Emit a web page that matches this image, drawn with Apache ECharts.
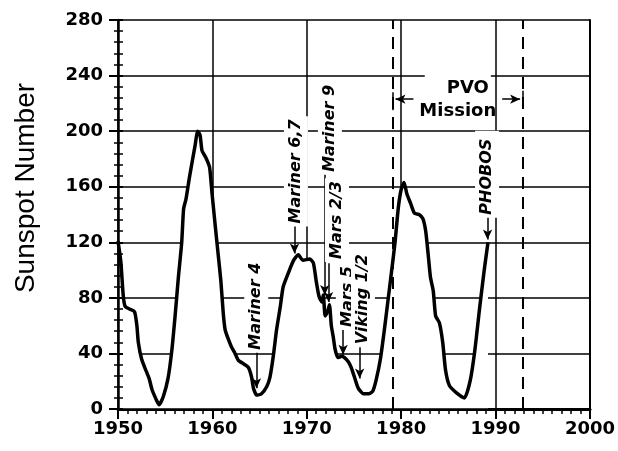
<!DOCTYPE html>
<html>
<head>
<meta charset="utf-8">
<script src="https://cdn.jsdelivr.net/npm/echarts@6/dist/echarts.min.js"></script>
<style>
html,body{margin:0;padding:0;background:#fff;}
#chart{width:618px;height:451px;}
</style>
</head>
<body>
<div id="chart"></div>
<script>
// smoothed sunspot number (year, value)
var years = [1950.0, 1950.3, 1950.55, 1950.75, 1951.2, 1951.75, 1952.0, 1952.15, 1952.5, 1953.0,
  1953.3, 1953.6, 1954.1, 1954.35, 1954.8, 1955.3, 1955.7, 1956.05, 1956.4, 1956.75,
  1956.95, 1957.2, 1957.6, 1958.15, 1958.45, 1958.7, 1958.9, 1959.3, 1959.7, 1959.95,
  1960.3, 1960.6, 1960.9, 1961.15, 1961.35, 1961.65, 1962.0, 1962.4, 1962.75, 1963.2,
  1963.8, 1964.15, 1964.35, 1964.7, 1965.2, 1965.75, 1966.1, 1966.45, 1966.8, 1967.2,
  1967.5, 1968.05, 1968.6, 1969.1, 1969.6, 1970.3, 1970.7, 1971.0, 1971.3, 1971.6,
  1971.75, 1971.95, 1972.2, 1972.4, 1972.6, 1972.8, 1973.0, 1973.3, 1973.7, 1974.0,
  1974.4, 1974.7, 1975.0, 1975.45, 1976.0, 1976.6, 1977.0, 1977.35, 1977.8, 1978.2,
  1978.6, 1979.0, 1979.35, 1979.7, 1980.0, 1980.3, 1980.6, 1981.0, 1981.4, 1981.9,
  1982.3, 1982.6, 1982.85, 1983.1, 1983.4, 1983.65, 1984.05, 1984.4, 1984.7, 1985.1,
  1985.8, 1986.7, 1987.3, 1987.8, 1988.3, 1988.8, 1989.2];
var ssn = [121, 106, 82, 74, 72, 70, 60, 48, 36, 27,
  22, 14, 6, 3, 9, 22, 42, 67, 95, 120,
  144, 151, 168, 189, 200, 197, 186, 181, 174, 156,
  132, 112, 92, 69, 57, 51, 45, 40, 35, 33,
  30, 23, 15, 10, 11, 16, 23, 38, 57, 74,
  88, 98, 107, 111, 107, 108, 105, 92, 81, 77,
  82, 67, 70, 75, 60, 52, 43, 37, 38, 37,
  34, 30, 24, 15, 11, 11, 13, 21, 36, 56,
  78, 100, 120, 145, 158, 163, 155, 148, 141, 140,
  137, 128, 112, 95, 85, 67, 62, 48, 28, 17,
  12, 8, 20, 42, 72, 100, 120];

// PVO mission start / end
var pvoStart = 1979.1;
var pvoEnd = 1992.85;

// spacecraft labels: text, label centre (year, value), arrow (year, from, to)
var noteText = ['Mariner 4', 'Mariner 6,7', 'Mariner 9', 'Mars 2/3', 'Mars 5', 'Viking 1/2', 'PHOBOS'];
var noteX = [1964.65, 1968.85, 1972.45, 1973.2, 1974.35, 1975.95, 1989.1];
var noteY = [74, 171, 202, 136, 81, 79, 169];
var arrowX = [1964.67, 1968.7, 1971.9, 1972.3, 1973.85, 1975.6, 1989.15];
var arrowFrom = [46, 136, 175, 105, 57, 45, 142];
var arrowTo = [15, 112, 82, 77, 39, 22, 122];

var chart = echarts.init(document.getElementById('chart'));

var lineData = years.map(function (y, i) { return [y, ssn[i]]; });

var marks = [
  {xAxis: pvoStart, lineStyle: {type: [12, 8], width: 2, color: '#000'}},
  {xAxis: pvoEnd, lineStyle: {type: [12, 8], width: 2, color: '#000'}}
];
arrowX.forEach(function (x, i) {
  marks.push([
    {coord: [x, arrowFrom[i]], symbol: 'none'},
    {coord: [x, arrowTo[i]], symbol: 'arrow', symbolSize: [7, 10]}
  ]);
});
// PVO mission arrows and end ticks
marks.push([{coord: [1981.3, 223], symbol: 'none'}, {coord: [1979.4, 223], symbol: 'arrow', symbolSize: [7, 10]}]);
marks.push([{coord: [1990.7, 223], symbol: 'none'}, {coord: [1992.6, 223], symbol: 'arrow', symbolSize: [7, 10]}]);
marks.push([{coord: [pvoStart, 215], symbol: 'none'}, {coord: [pvoStart, 228], symbol: 'none'}]);
marks.push([{coord: [pvoEnd, 218], symbol: 'none'}, {coord: [pvoEnd, 229], symbol: 'none'}]);

var tickFont = {color: '#000', fontFamily: 'DejaVu Sans', fontWeight: 'bold', fontSize: 18,
  formatter: function (v) { return String(v); }};

var option = {
  animation: false,
  grid: {left: 118, right: 28, top: 20, bottom: 42},
  xAxis: [
    {
      type: 'value', min: 1950, max: 2000, interval: 10, position: 'bottom', z: 10,
      axisLine: {lineStyle: {color: '#000', width: 2.5}},
      axisTick: {length: 10, lineStyle: {color: '#000', width: 2}},
      minorTick: {show: true, splitNumber: 10, length: 5, lineStyle: {color: '#000', width: 1.5}},
      axisLabel: Object.assign({margin: 11}, tickFont),
      splitLine: {show: false}
    },
    {
      type: 'value', min: 1950, max: 2000, interval: 10, position: 'top', z: 1,
      axisLine: {lineStyle: {color: '#000', width: 3}},
      axisTick: {show: false}, axisLabel: {show: false},
      splitLine: {show: true, lineStyle: {color: '#000', width: 1.5}}
    }
  ],
  yAxis: [
    {
      type: 'value', min: 0, max: 280, interval: 40, position: 'left', z: 10,
      axisLine: {lineStyle: {color: '#000', width: 2.5}},
      axisTick: {length: 9, lineStyle: {color: '#000', width: 2}},
      minorTick: {show: true, splitNumber: 5, length: 4, lineStyle: {color: '#000', width: 1.5}},
      axisLabel: Object.assign({margin: 15}, tickFont),
      splitLine: {show: false}
    },
    {
      type: 'value', min: 0, max: 280, interval: 40, position: 'right', z: 1,
      axisLine: {lineStyle: {color: '#000', width: 2}},
      axisTick: {show: false}, axisLabel: {show: false},
      splitLine: {show: true, lineStyle: {color: '#000', width: 1.5}}
    },
    {
      type: 'value', min: 0, max: 280, interval: 40, position: 'left', z: 10,
      axisLine: {show: false},
      axisTick: {inside: true, length: 5, lineStyle: {color: '#000', width: 2}},
      minorTick: {show: true, splitNumber: 5, length: 5, lineStyle: {color: '#000', width: 1.5}},
      axisLabel: {show: false}, splitLine: {show: false}
    }
  ],
  series: [{
    type: 'line',
    xAxisIndex: 0, yAxisIndex: 0,
    data: lineData,
    showSymbol: false,
    smooth: 0.2,
    lineStyle: {color: '#000', width: 3.5},
    areaStyle: {color: '#fff', opacity: 1},
    markLine: {
      silent: true,
      symbol: ['none', 'none'],
      label: {show: false},
      lineStyle: {color: '#000', width: 1.5, type: 'solid'},
      data: marks
    }
  }]
};
chart.setOption(option);

// text annotations placed from data coordinates
var graphics = [];
noteText.forEach(function (t, i) {
  var p = chart.convertToPixel({seriesIndex: 0}, [noteX[i], noteY[i]]);
  graphics.push({
    type: 'text', x: p[0], y: p[1], rotation: Math.PI / 2, z: 50,
    style: {
      text: t, fill: '#000', fontFamily: 'DejaVu Sans', fontWeight: 'bold', fontStyle: 'italic',
      fontSize: 16, textAlign: 'center', textVerticalAlign: 'middle',
      backgroundColor: '#fff', padding: t === 'PHOBOS' ? [4, 8, 4, 3] : [4, 3, 4, 3]
    }
  });
});
var pvo = chart.convertToPixel({seriesIndex: 0}, [1986.0, 231]);
var mission = chart.convertToPixel({seriesIndex: 0}, [1986.0, 214]);
graphics.push({
  type: 'text', x: pvo[0], y: pvo[1], z: 50,
  style: {text: 'PVO', fill: '#000', fontFamily: 'DejaVu Sans', fontWeight: 'bold', fontSize: 18,
    textAlign: 'center', textVerticalAlign: 'middle', backgroundColor: '#fff', padding: [9, 2, 2, 22]}
});
graphics.push({
  type: 'text', x: mission[0], y: mission[1], z: 50,
  style: {text: 'Mission', fill: '#000', fontFamily: 'DejaVu Sans', fontWeight: 'bold', fontSize: 18,
    textAlign: 'center', textVerticalAlign: 'middle'}
});
graphics.push({
  type: 'text', x: 26, y: 188, rotation: Math.PI / 2, z: 50,
  style: {text: 'Sunspot Number', fill: '#000', fontFamily: 'Liberation Sans', fontSize: 28,
    textAlign: 'center', textVerticalAlign: 'middle'}
});
chart.setOption({graphic: graphics});
</script>
</body>
</html>
